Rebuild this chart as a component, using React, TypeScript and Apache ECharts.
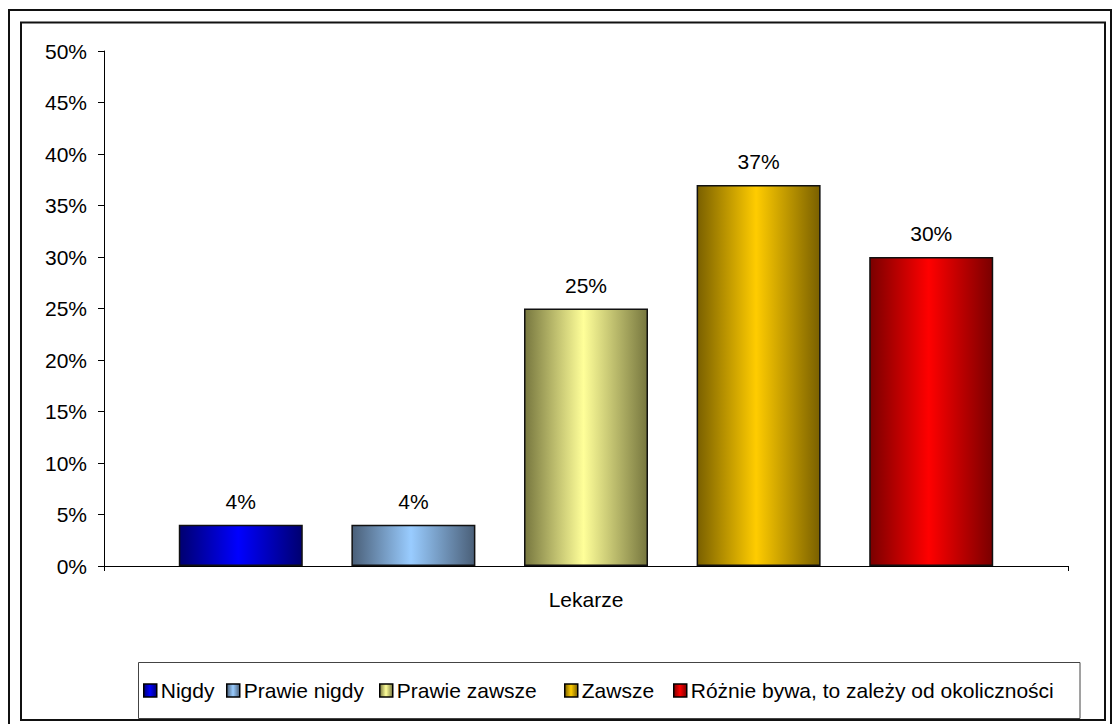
import React, { useEffect, useRef } from "react";
import * as echarts from "echarts";

const categories = ["Lekarze"];
const seriesNames = [
  "Nigdy",
  "Prawie nigdy",
  "Prawie zawsze",
  "Zawsze",
  "Różnie bywa, to zależy od okoliczności",
];
const seriesValues = [0.04, 0.04, 0.25, 0.37, 0.3];
const edgeColors = ["#000070", "#4a5f78", "#77773f", "#7a6000", "#7a0000"];
const centerColors = ["#0000ff", "#99ccff", "#ffff99", "#ffcc00", "#ff0000"];
const legendLefts = [143, 226, 379, 564, 673];

const FONT = "'Liberation Sans', Arial, sans-serif";
const FS = 21;

function grad(i: number) {
  return new echarts.graphic.LinearGradient(0, 0, 1, 0, [
    { offset: 0, color: edgeColors[i] },
    { offset: 0.48, color: centerColors[i] },
    { offset: 1, color: edgeColors[i] },
  ]);
}

export default function App() {
  const ref = useRef<HTMLDivElement>(null);
  useEffect(() => {
    if (!ref.current) return;
    const chart = echarts.init(ref.current, undefined, { renderer: "svg" });
    chart.setOption({
      animation: false,
      backgroundColor: "#ffffff",
      textStyle: { fontFamily: FONT },
      grid: { left: 104, top: 51, width: 964, height: 515 },
      xAxis: {
        type: "category",
        data: categories,
        axisLine: { lineStyle: { color: "#000", width: 1 } },
        axisTick: { show: true, length: 5, lineStyle: { color: "#000" } },
        axisLabel: { color: "#000", fontSize: FS, fontFamily: FONT, margin: 23 },
      },
      yAxis: {
        type: "value",
        min: 0,
        max: 0.5,
        interval: 0.05,
        axisLine: { show: true, lineStyle: { color: "#000", width: 1 } },
        axisTick: { show: true, length: 6, lineStyle: { color: "#000" } },
        splitLine: { show: false },
        axisLabel: {
          color: "#000",
          fontSize: FS,
          fontFamily: FONT,
          margin: 17,
          formatter: (v: number) => Math.round(v * 100) + "%",
        },
      },
      legend: seriesNames.map((n, i) => ({
        data: [{ name: n, icon: "rect" }],
        left: legendLefts[i],
        top: 680,
        padding: 0,
        itemWidth: 13,
        itemHeight: 13,
        itemGap: 5,
        textStyle: { color: "#000", fontSize: FS, fontFamily: FONT, padding: [0, 0, 0, -1] },
        itemStyle: { borderColor: "#000", borderWidth: 1.5 },
      })),
      series: seriesNames.map((n, i) => ({
        type: "bar",
        name: n,
        data: [seriesValues[i]],
        barWidth: 124,
        barGap: "39.2%",
        itemStyle: { color: grad(i), borderColor: "#111", borderWidth: 1.5 },
        label: {
          show: true,
          position: "top",
          distance: 13,
          color: "#000",
          fontSize: FS,
          fontFamily: FONT,
          formatter: (p: any) => Math.round(p.value * 100) + "%",
        },
      })),
      graphic: [
        {
          type: "rect",
          shape: { x: 9, y: 10, width: 1102, height: 800 },
          style: { fill: "none", stroke: "#111", lineWidth: 2 },
          silent: true,
        },
        {
          type: "rect",
          shape: { x: 21, y: 22.5, width: 1084, height: 697.5 },
          style: { fill: "none", stroke: "#111", lineWidth: 2 },
          silent: true,
        },
        {
          type: "rect",
          shape: { x: 138.5, y: 662.5, width: 941.5, height: 56 },
          style: { fill: "none", stroke: "#444", lineWidth: 1 },
          silent: true,
        },
      ],
    });
    return () => chart.dispose();
  }, []);
  return (
    <div
      ref={ref}
      style={{ position: "fixed", left: 0, top: 0, width: 1112, height: 724 }}
    />
  );
}
